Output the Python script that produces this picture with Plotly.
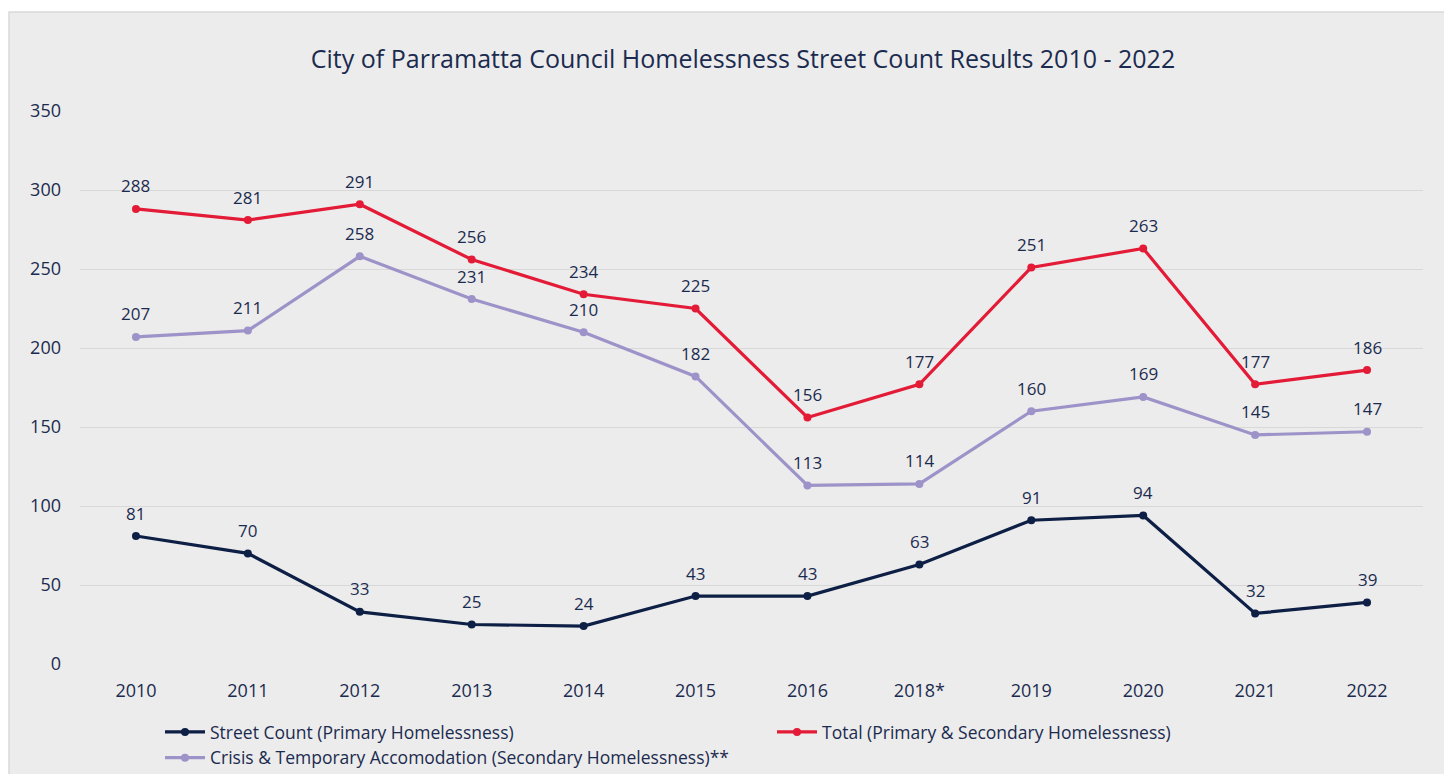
import plotly.graph_objects as go

years = ["2010", "2011", "2012", "2013", "2014", "2015", "2016", "2018*", "2019", "2020", "2021", "2022"]
street = [81, 70, 33, 25, 24, 43, 43, 63, 91, 94, 32, 39]
total = [288, 281, 291, 256, 234, 225, 156, 177, 251, 263, 177, 186]
crisis = [207, 211, 258, 231, 210, 182, 113, 114, 160, 169, 145, 147]

navy = "#0d1f45"
red = "#e31b37"
lav = "#9d93c9"
txt = "#1b2b4f"
font = "Open Sans"

# page offset (browser body margin) compensation
OFF = 8
W, H = 1452, 774
L, R, T, B = 80 - OFF, W - (1423 - OFF), 111 - OFF, H - (664 - OFF)
pw, ph = W - L - R, H - T - B

def py(pix):  # page pixel y -> paper y
    return (H - B - (pix - OFF)) / ph

def px(pix):  # page pixel x -> paper x
    return (pix - OFF - L) / pw

fig = go.Figure()
fig.update_layout(xaxis=dict(type="category", categoryorder="array", categoryarray=years,
                             range=[-0.5, len(years) - 0.5]))

def add(name, vals, color):
    fig.add_trace(go.Scatter(
        x=years, y=vals, name=name, mode="lines+markers",
        line=dict(color=color, width=3.2),
        marker=dict(color=color, size=8),
        cliponaxis=False,
    ))
    for i, v in enumerate(vals):
        fig.add_annotation(x=i, y=v, text=str(v), showarrow=False,
                           yshift=23, xanchor="center", yanchor="middle",
                           font=dict(family=font, size=17, color=txt))

add("Street Count (Primary Homelessness)", street, navy)
add("Total (Primary & Secondary Homelessness)", total, red)
add("Crisis & Temporary Accomodation (Secondary Homelessness)**", crisis, lav)

fig.add_shape(type="rect", xref="paper", yref="paper",
              x0=px(9), x1=px(1446),
              y0=py(800), y1=py(12),
              fillcolor="#ececec", line=dict(color="#d9d9d9", width=1.5), layer="below")

fig.update_layout(
    width=W, height=H,
    margin=dict(l=L, r=R, t=T, b=B, autoexpand=False),
    paper_bgcolor="white", plot_bgcolor="#ececec",
    font=dict(family=font, color=txt),
    title=dict(text="City of Parramatta Council Homelessness Street Count Results 2010 - 2022",
               x=px(743), xref="paper", xanchor="center",
               y=1 - (59 - OFF) / H, yanchor="middle", yref="container",
               font=dict(family=font, size=25, color=txt)),
    showlegend=True,
    legend=dict(orientation="h", x=px(160), xanchor="left",
                y=py(714), yanchor="top",
                entrywidth=557, entrywidthmode="pixels",
                font=dict(family=font, size=17.5, color=txt),
                bgcolor="rgba(0,0,0,0)", itemwidth=40),
    xaxis=dict(showgrid=False, zeroline=False, showline=False,
               tickfont=dict(family=font, size=18, color=txt), ticks="",
               ticklabelstandoff=14),
    yaxis=dict(range=[0, 350], dtick=50, showgrid=True, gridcolor="#d8d8d8", gridwidth=1.3,
               zeroline=False, showline=False, ticks="",
               tickfont=dict(family=font, size=18, color=txt), ticklabelstandoff=18),
)

fig.write_html("out.html")
